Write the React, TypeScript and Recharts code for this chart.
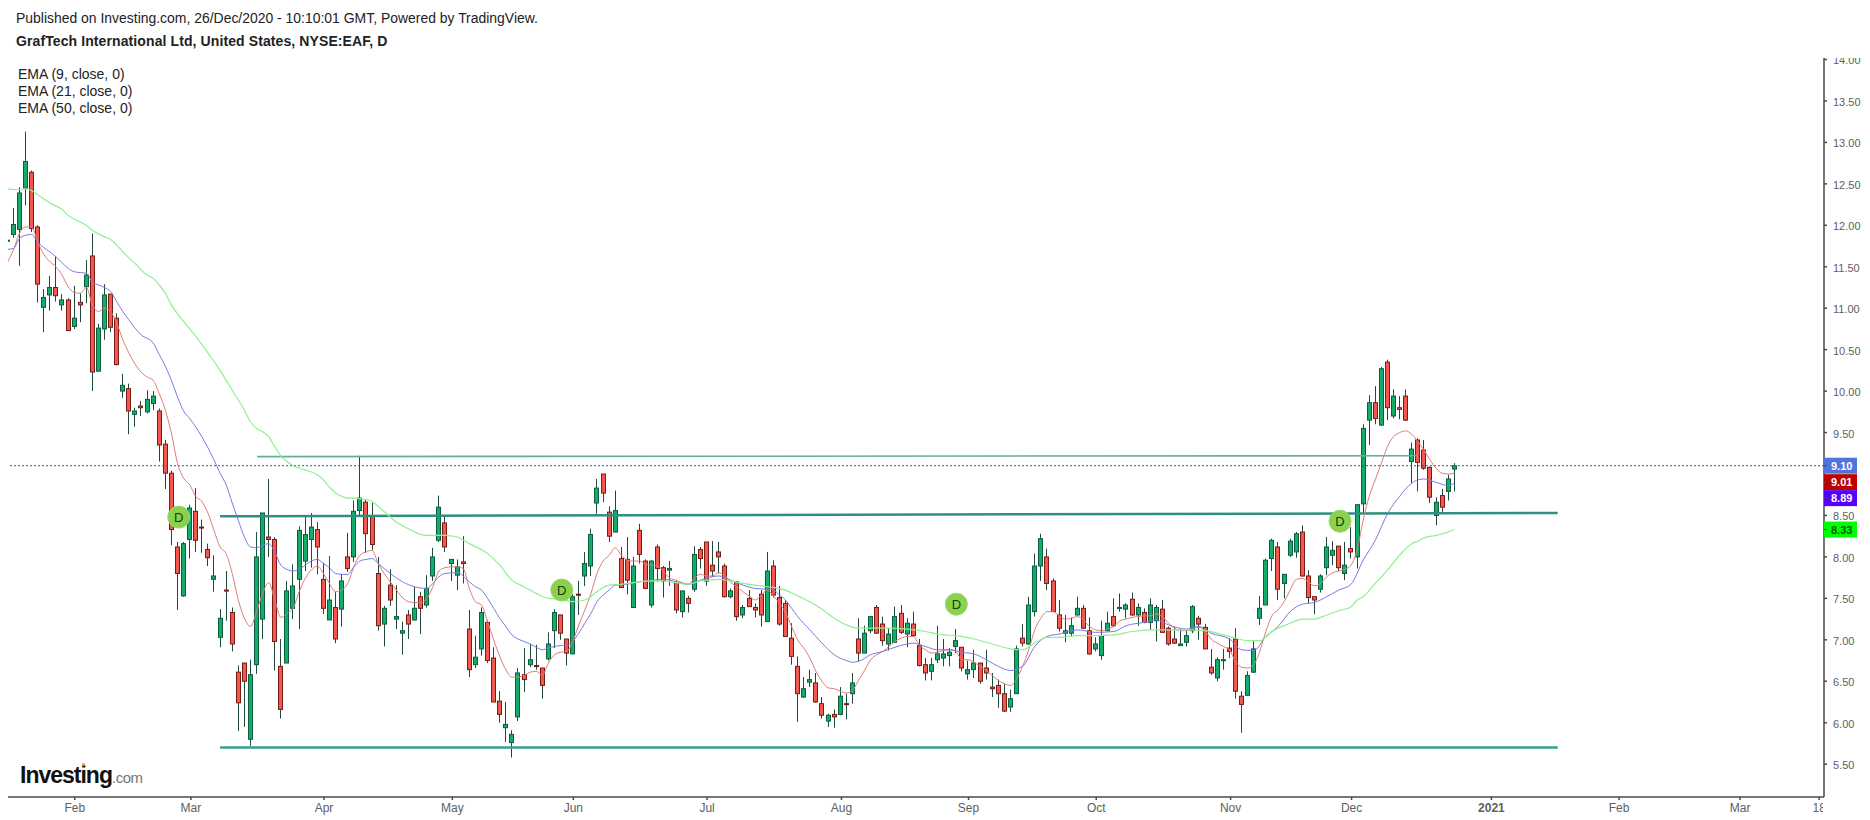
import { ComposedChart, XAxis, YAxis, Bar, Line, ReferenceLine, ReferenceDot } from "recharts"

const opens = [11.82,11.89,11.95,12.45,12.64,11.98,11.01,11.16,11.25,11.04,11.10,10.78,11.07,11.26,11.63,10.24,10.75,11.17,10.88,10.00,
  10.03,9.72,9.82,9.75,9.85,9.76,9.36,9.01,8.12,7.53,8.21,8.55,8.36,8.09,7.73,7.03,7.60,7.33,6.61,6.72,
  5.80,6.70,7.25,8.24,8.21,6.68,6.72,7.38,7.73,7.95,8.21,8.33,7.73,7.24,7.39,7.37,8.00,8.00,8.56,8.66,
  8.49,7.80,7.19,7.66,7.25,7.08,7.30,7.24,7.52,7.42,7.77,8.20,8.41,7.92,7.78,7.94,7.13,6.70,6.89,7.21,
  6.78,6.26,5.94,5.76,6.07,6.58,6.70,6.69,6.66,6.77,7.11,7.30,7.01,6.83,7.55,7.77,7.89,8.65,9.00,8.54,
  8.30,7.98,7.97,7.39,8.32,7.95,7.42,8.12,7.87,7.84,7.69,7.34,7.50,7.61,8.09,8.18,7.90,8.06,7.89,7.52,
  7.70,7.30,7.50,7.39,7.55,7.22,7.89,7.51,7.44,7.02,6.68,6.31,6.49,6.48,6.23,6.02,6.10,6.10,6.23,6.35,
  7.01,6.84,7.11,7.39,7.19,6.95,6.97,7.32,7.07,7.19,6.93,6.70,6.62,6.76,6.78,6.81,6.92,6.91,6.59,6.64,
  6.72,6.66,6.43,6.45,6.35,6.19,6.35,7.02,6.95,7.34,7.89,8.00,7.71,7.30,7.08,7.08,7.30,7.38,7.11,6.89,
  6.81,7.11,7.28,7.39,7.37,7.49,7.30,7.33,7.21,7.23,7.37,7.14,7.01,6.93,6.97,7.11,7.26,7.15,6.67,6.54,
  6.75,6.90,7.01,6.32,6.33,6.61,7.26,7.42,7.98,8.12,7.68,8.02,8.06,8.30,7.77,7.52,7.61,7.87,8.02,8.13,
  7.80,8.10,8.00,8.64,9.65,9.86,9.59,10.35,9.70,9.80,9.94,9.15,9.41,9.29,9.08,8.50,8.74,8.79,9.06]
const highs = [11.83,12.21,12.46,13.13,12.66,12.00,11.23,11.39,11.62,11.17,11.12,11.27,11.18,11.58,11.90,10.81,11.29,11.17,10.94,10.21,
  10.09,9.80,9.88,10.01,10.00,9.79,9.41,9.04,8.18,8.18,8.63,8.83,8.45,8.16,8.02,7.37,7.83,7.39,6.69,6.72,
  6.76,8.30,8.53,8.94,8.24,7.01,7.71,7.91,8.37,8.50,8.53,8.42,7.93,8.01,7.58,7.79,8.29,8.68,9.22,8.69,
  8.65,8.00,7.41,7.85,7.66,7.22,7.36,7.64,7.58,7.78,8.11,8.74,8.50,7.97,7.97,8.25,7.36,7.05,7.39,7.24,
  6.91,6.38,6.25,5.91,6.66,6.90,6.95,6.94,6.66,7.09,7.37,7.30,7.01,7.55,7.71,8.06,8.34,8.94,9.00,8.61,
  8.80,8.12,8.24,8.00,8.40,7.97,7.96,8.15,7.89,7.95,7.71,7.59,7.53,8.13,8.12,8.18,8.19,8.18,7.92,7.62,
  7.71,7.42,7.60,7.44,7.60,8.06,7.96,7.65,7.48,7.20,6.80,6.55,6.64,6.60,6.31,6.11,6.16,6.43,6.35,6.60,
  7.26,7.17,7.29,7.42,7.28,7.14,7.40,7.42,7.26,7.34,7.01,6.78,6.78,7.17,7.01,6.90,7.13,6.91,6.75,6.88,
  6.72,6.88,6.60,6.52,6.47,6.40,6.93,7.19,7.52,8.04,8.28,8.10,7.74,7.48,7.30,7.27,7.52,7.42,7.27,7.03,
  7.23,7.34,7.50,7.56,7.44,7.57,7.44,7.38,7.50,7.42,7.48,7.16,7.15,7.13,7.12,7.42,7.29,7.19,6.89,6.79,
  6.89,7.02,7.14,6.38,6.62,6.99,7.53,7.98,8.22,8.18,7.79,8.22,8.30,8.38,7.84,7.52,7.79,8.24,8.19,8.13,
  8.18,8.36,8.63,9.60,9.95,10.06,10.29,10.38,10.02,9.94,10.02,9.38,9.43,9.41,9.09,8.72,8.82,8.99,9.13]
const lows = [11.81,11.85,11.51,12.24,11.92,11.07,10.71,10.97,11.08,10.97,10.73,10.75,10.83,11.06,10.00,10.24,10.62,10.71,10.31,9.92,
  9.48,9.57,9.70,9.73,9.77,9.15,8.82,8.14,7.36,7.52,7.98,8.06,8.05,7.89,7.58,6.91,7.23,6.86,5.90,5.95,
  5.72,6.59,7.01,8.00,6.63,6.05,6.72,7.25,7.13,7.83,7.87,7.79,7.31,7.24,6.96,7.16,7.82,7.94,8.50,8.05,
  8.08,7.11,6.92,7.41,7.13,6.82,7.01,7.23,7.07,7.39,7.71,8.18,8.06,7.71,7.60,7.68,6.55,6.66,6.81,6.72,
  6.25,6.00,5.77,5.58,6.02,6.37,6.67,6.64,6.29,6.75,6.90,7.00,6.69,6.83,7.30,7.65,7.77,8.52,8.66,8.18,
  8.30,7.63,7.55,7.39,7.92,7.61,7.39,7.70,7.51,7.65,7.32,7.27,7.33,7.58,7.86,7.65,7.76,7.80,7.51,7.50,
  7.23,7.26,7.40,7.27,7.16,7.22,7.51,7.17,7.04,6.70,6.01,6.30,6.43,6.24,6.05,5.95,5.94,6.09,6.04,6.23,
  6.74,6.84,7.08,7.08,6.93,6.87,6.97,7.07,6.91,7.04,6.68,6.51,6.51,6.72,6.68,6.68,6.84,6.62,6.52,6.54,
  6.47,6.52,6.31,6.18,6.13,6.13,6.35,6.92,6.94,7.28,7.71,7.60,7.34,7.10,6.97,7.04,7.29,7.13,6.82,6.86,
  6.76,7.11,7.16,7.34,7.26,7.29,7.17,7.20,7.12,6.98,7.09,6.93,6.95,6.93,6.92,7.08,7.00,6.89,6.58,6.50,
  6.64,6.78,6.29,5.88,6.33,6.60,7.18,7.42,7.83,7.48,7.50,8.00,7.99,7.76,7.44,7.31,7.57,7.78,7.90,7.83,
  7.72,7.98,7.86,8.53,9.35,9.60,9.58,9.65,9.67,9.66,9.64,8.89,8.79,9.05,8.65,8.38,8.54,8.68,8.79]
const closes = [11.82,12.01,12.39,12.77,11.96,11.29,11.13,11.25,11.15,11.10,10.73,10.88,11.04,11.40,10.23,10.76,11.16,10.77,10.32,10.07,
  9.76,9.76,9.80,9.90,9.94,9.35,9.01,8.33,7.80,8.16,8.59,8.20,8.35,7.99,7.77,7.26,7.59,6.95,6.24,6.50,
  6.58,8.00,8.53,8.21,6.98,6.16,7.59,7.65,8.32,8.27,8.36,8.12,7.38,7.48,7.01,7.71,7.86,8.55,8.71,8.28,
  8.15,7.17,7.38,7.48,7.28,7.11,7.19,7.38,7.38,7.62,8.00,8.60,8.12,7.97,7.88,7.92,6.64,6.79,7.33,6.75,
  6.25,6.10,5.98,5.86,6.60,6.52,6.76,6.68,6.45,6.95,7.33,7.08,6.84,7.52,7.54,7.92,8.27,8.83,8.77,8.25,
  8.56,7.63,7.72,7.89,8.03,7.62,7.95,7.86,7.71,7.86,7.36,7.59,7.44,8.03,7.98,7.71,7.83,8.00,7.52,7.59,
  7.28,7.39,7.40,7.36,7.30,7.83,7.54,7.19,7.04,6.80,6.35,6.41,6.52,6.25,6.09,6.09,6.07,6.32,6.22,6.48,
  6.84,7.08,7.28,7.08,6.99,7.07,7.28,7.09,7.20,7.05,6.69,6.60,6.70,6.83,6.83,6.85,6.99,6.66,6.64,6.72,
  6.50,6.60,6.41,6.35,6.14,6.29,6.89,6.96,7.42,7.89,8.22,7.68,7.34,7.14,7.11,7.17,7.38,7.14,6.83,6.95,
  7.05,7.20,7.17,7.39,7.42,7.30,7.39,7.21,7.42,7.39,7.09,6.95,6.96,6.95,7.05,7.40,7.19,6.89,6.60,6.76,
  6.76,6.86,6.38,6.22,6.57,6.89,7.38,7.96,8.20,7.61,7.79,8.19,8.28,7.77,7.51,7.48,7.77,8.12,8.08,7.87,
  7.90,8.06,8.63,9.55,9.86,9.67,10.27,9.80,9.94,9.78,9.65,9.30,9.14,9.07,8.72,8.66,8.60,8.94,9.10]

const ema9 = [11.55,11.70,11.90,11.98,11.98,11.80,11.65,11.56,11.50,11.40,11.26,11.19,11.18,11.25,11.04,10.96,11.00,10.96,10.82,10.62,
  10.46,10.33,10.23,10.17,10.13,9.97,9.77,9.49,9.13,8.95,8.87,8.73,8.67,8.53,8.32,8.12,8.04,7.80,7.48,7.26,
  7.16,7.34,7.56,7.69,7.48,7.27,7.32,7.38,7.58,7.74,7.84,7.89,7.80,7.68,7.58,7.60,7.68,7.88,8.02,8.06,
  8.08,7.92,7.80,7.70,7.60,7.51,7.46,7.45,7.45,7.50,7.64,7.83,7.87,7.88,7.88,7.86,7.62,7.46,7.42,7.22,
  7.00,6.80,6.64,6.55,6.55,6.57,6.61,6.62,6.57,6.72,6.82,6.85,6.86,6.98,7.18,7.36,7.56,7.80,7.95,8.02,
  8.11,8.02,7.96,7.95,7.95,7.91,7.90,7.89,7.82,7.74,7.72,7.69,7.67,7.74,7.79,7.77,7.77,7.81,7.77,7.69,
  7.64,7.58,7.53,7.48,7.54,7.60,7.53,7.44,7.33,7.16,7.00,6.90,6.78,6.62,6.50,6.42,6.41,6.38,6.36,6.39,
  6.51,6.63,6.76,6.82,6.86,6.92,6.98,7.02,7.04,7.04,6.94,6.88,6.84,6.85,6.87,6.88,6.86,6.76,6.76,6.73,
  6.68,6.63,6.57,6.51,6.47,6.45,6.53,6.68,6.88,7.12,7.26,7.34,7.34,7.29,7.25,7.26,7.28,7.24,7.16,7.12,
  7.11,7.13,7.16,7.23,7.25,7.27,7.28,7.29,7.29,7.31,7.28,7.20,7.14,7.11,7.11,7.14,7.15,7.11,7.01,6.96,
  6.92,6.88,6.74,6.67,6.66,6.70,6.86,7.10,7.29,7.36,7.46,7.60,7.73,7.74,7.70,7.65,7.68,7.76,7.81,7.83,
  7.85,7.90,8.08,8.44,8.73,8.93,9.13,9.33,9.45,9.50,9.52,9.48,9.39,9.29,9.17,9.07,9.01,9.00,9.01]

const ema21Days = [0,1,2,3,4,5,6,7,8,9,10,11,13,14,15,16,17,18,19,20,21,22,24,25,26,27,28,29,30,32,34,35,36,37,38,39,40,41,42,43,44,45,46,47,48,49,50,51,52,53,54,55,56,57,58,59,60,61,63,65,67,69,70,71,72,74,76,
  77,78,79,80,81,82,83,84,85,86,87,88,89,90,91,92,93,94,95,96,97,98,99,100,102,104,106,108,110,112,114,117,119,121,123,125,126,127,128,129,130,132,134,136,138,139,140,142,144,146,148,149,151,153,
  155,157,159,161,163,165,167,169,171,173,176,179,182,184,187,189,191,194,196,198,201,203,205,207,209,211,213,215,217,219,221,223,225,227,229,231,232,233,235,237,238]
const ema21 = [11.71,11.72,11.84,11.88,11.89,11.80,11.73,11.68,11.62,11.55,11.48,11.44,11.42,11.32,11.28,11.25,11.20,11.08,10.96,10.86,10.76,10.68,10.58,10.44,10.30,10.13,9.93,9.76,9.67,9.45,9.17,9.01,8.87,8.65,8.44,8.24,8.12,8.11,8.14,8.16,8.06,7.90,7.85,7.83,7.85,7.90,7.95,7.97,7.92,7.87,7.80,7.79,7.79,7.88,7.95,7.97,7.98,7.92,7.80,7.70,7.64,7.62,7.68,7.76,7.80,7.81,7.70,
  7.64,7.60,7.50,7.38,7.26,7.16,7.06,7.01,6.98,6.95,6.91,6.88,6.90,6.92,6.93,6.94,6.98,7.08,7.20,7.32,7.46,7.54,7.60,7.66,7.67,7.70,7.72,7.73,7.70,7.67,7.72,7.77,7.72,7.66,7.62,7.61,7.60,7.54,7.48,7.38,7.28,7.12,6.96,6.82,6.75,6.73,6.74,6.82,6.86,6.91,6.95,6.96,6.92,6.88,
  6.88,6.85,6.83,6.76,6.68,6.63,6.68,6.92,7.04,7.07,7.12,7.09,7.10,7.17,7.21,7.24,7.18,7.13,7.16,7.08,7.01,6.88,6.87,7.04,7.16,7.34,7.43,7.45,7.52,7.60,7.67,7.96,8.20,8.52,8.73,8.89,8.93,8.94,8.90,8.86,8.89]

const ema50Days = [0,1,3,4,5,7,9,10,12,13,14,16,17,18,19,21,23,24,25,26,27,29,31,33,35,37,39,40,41,42,43,44,45,46,47,49,51,52,53,54,55,56,57,59,60,61,63,64,66,68,69,70,72,74,76,
  79,81,83,85,87,89,91,93,95,97,99,101,103,106,108,110,112,114,117,119,121,123,125,128,130,132,134,136,138,140,142,145,148,151,153,
  154,156,159,162,165,167,169,171,173,176,179,182,185,188,191,194,197,200,202,204,206,208,211,213,215,217,219,221,222,223,225,227,229,231,232,233,235,237,238]
const ema50 = [12.44,12.43,12.44,12.42,12.37,12.27,12.19,12.12,12.04,12.00,11.94,11.86,11.83,11.76,11.68,11.54,11.40,11.36,11.28,11.18,11.04,10.84,10.66,10.46,10.25,10.01,9.77,9.63,9.55,9.51,9.45,9.33,9.22,9.15,9.10,9.05,8.99,8.93,8.84,8.77,8.73,8.71,8.71,8.69,8.67,8.61,8.48,8.42,8.34,8.27,8.26,8.26,8.26,8.24,8.16,
  8.04,7.90,7.72,7.64,7.56,7.50,7.49,7.46,7.48,7.58,7.66,7.67,7.69,7.71,7.71,7.69,7.67,7.71,7.73,7.71,7.68,7.66,7.64,7.60,7.53,7.46,7.37,7.26,7.18,7.14,7.14,7.14,7.13,7.10,7.07,
  7.06,7.05,7.01,6.95,6.89,6.88,6.96,7.03,7.03,7.05,7.05,7.06,7.10,7.12,7.12,7.12,7.11,7.06,7.02,6.99,6.99,7.10,7.20,7.25,7.25,7.30,7.35,7.40,7.48,7.52,7.68,7.84,8.02,8.16,8.19,8.23,8.26,8.30,8.33]

const priceTicks = [5.5, 6, 6.5, 7, 7.5, 8, 8.5, 9.5, 10, 10.5, 11, 11.5, 12, 12.5, 13, 13.5, 14]
const dateTicks = [11.1, 30.2, 52.1, 73.2, 93.1, 115.1, 137.2, 158.1, 179.1, 201.2, 221.1, 244.1, 265.1, 285, 298]
const dateLabels = ["Feb", "Mar", "Apr", "May", "Jun", "Jul", "Aug", "Sep", "Oct", "Nov", "Dec", "2021", "Feb", "Mar", "18"]

const emaLegend = ["EMA (9, close, 0)", "EMA (21, close, 0)", "EMA (50, close, 0)"]
const lastValues = [9.1, 9.01, 8.89, 8.33]
const dividendDays = [28.2, 91.2, 156.1, 219.2]
const dividendPrices = [8.48, 7.6, 7.43, 8.43]

const upperLine = { from: 41.1, to: 232, startPrice: 9.21, endPrice: 9.22 }
const middleLine = { from: 35, to: 255, startPrice: 8.49, endPrice: 8.53 }
const lowerLine = { from: 35, to: 255, startPrice: 5.7, endPrice: 5.7 }

const rows = opens.map((open, i) => ({
  day: i,
  open,
  high: highs[i],
  low: lows[i],
  close: closes[i],
  ema9: ema9[i],
}))
const ema21Rows = ema21Days.map((day, i) => ({ day, ema21: ema21[i] }))
const ema50Rows = ema50Days.map((day, i) => ({ day, ema50: ema50[i] }))

const FONT = '"Liberation Sans", Arial, sans-serif'
const AXIS_COLOR = "#4a4a4a"
const TEXT_COLOR = "#606060"
const X_MIN = 0.12
const X_MAX = 298.8

// candle drawn from the low-high bar the scale gives us
function Candle(props: any) {
  const { x, y, width, height, payload } = props
  if (!payload) return null
  const { open, high, low, close } = payload
  const up = close >= open
  const perUnit = height / (high - low)
  const cx = Math.round(x + width / 2) - 0.5
  const top = y + (high - Math.max(open, close)) * perUnit
  const bodyH = Math.max(Math.abs(open - close) * perUnit, 1)
  return (
    <g>
      <line x1={cx} x2={cx} y1={y} y2={y + height} stroke="#1f4a3d" strokeWidth={1} />
      <rect
        x={cx - 2}
        y={top}
        width={4}
        height={bodyH}
        fill={up ? "#12ad6b" : "#f2584e"}
        stroke={up ? "#0d5c3e" : "#7a1a14"}
        strokeWidth={1}
      />
    </g>
  )
}

function DateTick({ x, y, payload, index }: any) {
  const label = dateLabels[dateTicks.indexOf(payload.value)]
  return (
    <g>
      <clipPath id={`date-clip-${index}`}>
        <rect x={0} y={780} width={1823} height={40} />
      </clipPath>
      <text
        x={x}
        y={y + 10}
        textAnchor="middle"
        fontSize={12}
        fontWeight={label === "2021" ? 700 : 400}
        fontFamily={FONT}
        fill={TEXT_COLOR}
        clipPath={`url(#date-clip-${index})`}
      >
        {label}
      </text>
    </g>
  )
}

function PriceTick({ x, y, payload, index }: any) {
  return (
    <g>
      <clipPath id={`price-clip-${index}`}>
        <rect x={1800} y={58} width={70} height={760} />
      </clipPath>
      <text
        x={x + 4}
        y={y + 5}
        fontSize={11}
        fontFamily={FONT}
        fill={TEXT_COLOR}
        clipPath={`url(#price-clip-${index})`}
      >
        {payload.value.toFixed(2)}
      </text>
    </g>
  )
}

const tagColors = ["#4f74dd", "#c00000", "#5500ff", "#00ff00"]
const tagText = ["#ffffff", "#ffffff", "#ffffff", "#0b5d0b"]
const tagShift = [0, 9, 15, 0]

function ValueTag({ cx, cy, i }: any) {
  const mid = cy + tagShift[i]
  return (
    <g>
      <rect x={cx} y={mid - 8} width={33} height={16} fill={tagColors[i]} />
      <line x1={cx} x2={cx + 3} y1={mid} y2={mid} stroke={AXIS_COLOR} />
      <text x={cx + 7} y={mid + 4} fontSize={11} fontWeight={700} fontFamily={FONT} fill={tagText[i]}>
        {lastValues[i].toFixed(2)}
      </text>
    </g>
  )
}

function Segment({ line, color, width }: any) {
  return (
    <ReferenceLine
      segment={[
        { x: line.from, y: line.startPrice },
        { x: line.to, y: line.endPrice },
      ]}
      stroke={color}
      strokeWidth={width}
      ifOverflow="visible"
    />
  )
}

export default function App() {
  return (
    <div style={{ position: "absolute", left: 0, top: 0, width: 1870, height: 820, overflow: "hidden", background: "#fff", fontFamily: FONT }}>
      <div style={{ position: "absolute", left: 16, top: 10, fontSize: 13.95, color: "#222" }}>
        Published on Investing.com, 26/Dec/2020 - 10:10:01 GMT, Powered by TradingView.
      </div>
      <div style={{ position: "absolute", left: 16, top: 33, fontSize: 14, fontWeight: 700, letterSpacing: 0.1, color: "#222" }}>
        GrafTech International Ltd, United States, NYSE:EAF, D
      </div>
      {emaLegend.map((label, i) => (
        <div key={label} style={{ position: "absolute", left: 18, top: 66 + i * 17, fontSize: 14, color: "#222" }}>
          {label}
        </div>
      ))}
      <div style={{ position: "absolute", left: 20, top: 762, whiteSpace: "nowrap", color: "#111", fontWeight: 700, fontSize: 23, letterSpacing: -1 }}>
        Investing<span style={{ color: "#777", fontWeight: 400, fontSize: 15, letterSpacing: -0.5 }}>.com</span>
      </div>
      <div style={{ position: "absolute", left: 82, top: 763, width: 3, height: 3, borderRadius: 2, background: "#f39a1e" }} />

      <ComposedChart width={1870} height={820} data={rows} margin={{ top: 58, right: 0, bottom: 0, left: 8 }}>
        <XAxis
          dataKey="day"
          type="number"
          domain={[X_MIN, X_MAX]}
          allowDataOverflow
          ticks={dateTicks}
          interval={0}
          height={23}
          tick={<DateTick />}
          tickSize={3}
          stroke={AXIS_COLOR}
          strokeWidth={1.5}
        />
        <YAxis
          orientation="right"
          domain={[5.104, 14.018]}
          allowDataOverflow
          ticks={priceTicks}
          interval={0}
          width={46}
          tick={<PriceTick />}
          tickSize={3}
          stroke={AXIS_COLOR}
          strokeWidth={1.5}
        />
        <ReferenceLine y={9.1} stroke="#2f5f80" strokeDasharray="2 2" />
        {Segment({ line: upperLine, color: "#63ad9d", width: 1.6 })}
        {Segment({ line: middleLine, color: "#2f8f80", width: 2.5 })}
        {Segment({ line: lowerLine, color: "#35a08e", width: 2.5 })}
        <Bar dataKey={(d: any) => [d.low, d.high]} barSize={5} shape={<Candle />} isAnimationActive={false} />
        <Line dataKey="ema9" stroke="#dc7d78" strokeWidth={1} dot={false} isAnimationActive={false} type="monotone" />
        <Line data={ema21Rows} dataKey="ema21" stroke="#7f76e6" strokeWidth={1} dot={false} isAnimationActive={false} type="monotone" />
        <Line data={ema50Rows} dataKey="ema50" stroke="#8ff08f" strokeWidth={1.2} dot={false} isAnimationActive={false} type="monotone" />
        {dividendDays.map((day, i) => (
          <ReferenceDot
            key={day}
            x={day}
            y={dividendPrices[i]}
            r={11}
            fill="#8ad24e"
            stroke="#9ad86a"
            label={{ value: "D", position: "center", fontSize: 13, fontFamily: FONT, fill: "#1a3a10" }}
          />
        ))}
        {lastValues.map((value, i) => (
          <ReferenceDot
            key={value}
            x={X_MAX}
            y={value}
            ifOverflow="visible"
            shape={(p: any) => <ValueTag {...p} i={i} />}
          />
        ))}
      </ComposedChart>
    </div>
  )
}
